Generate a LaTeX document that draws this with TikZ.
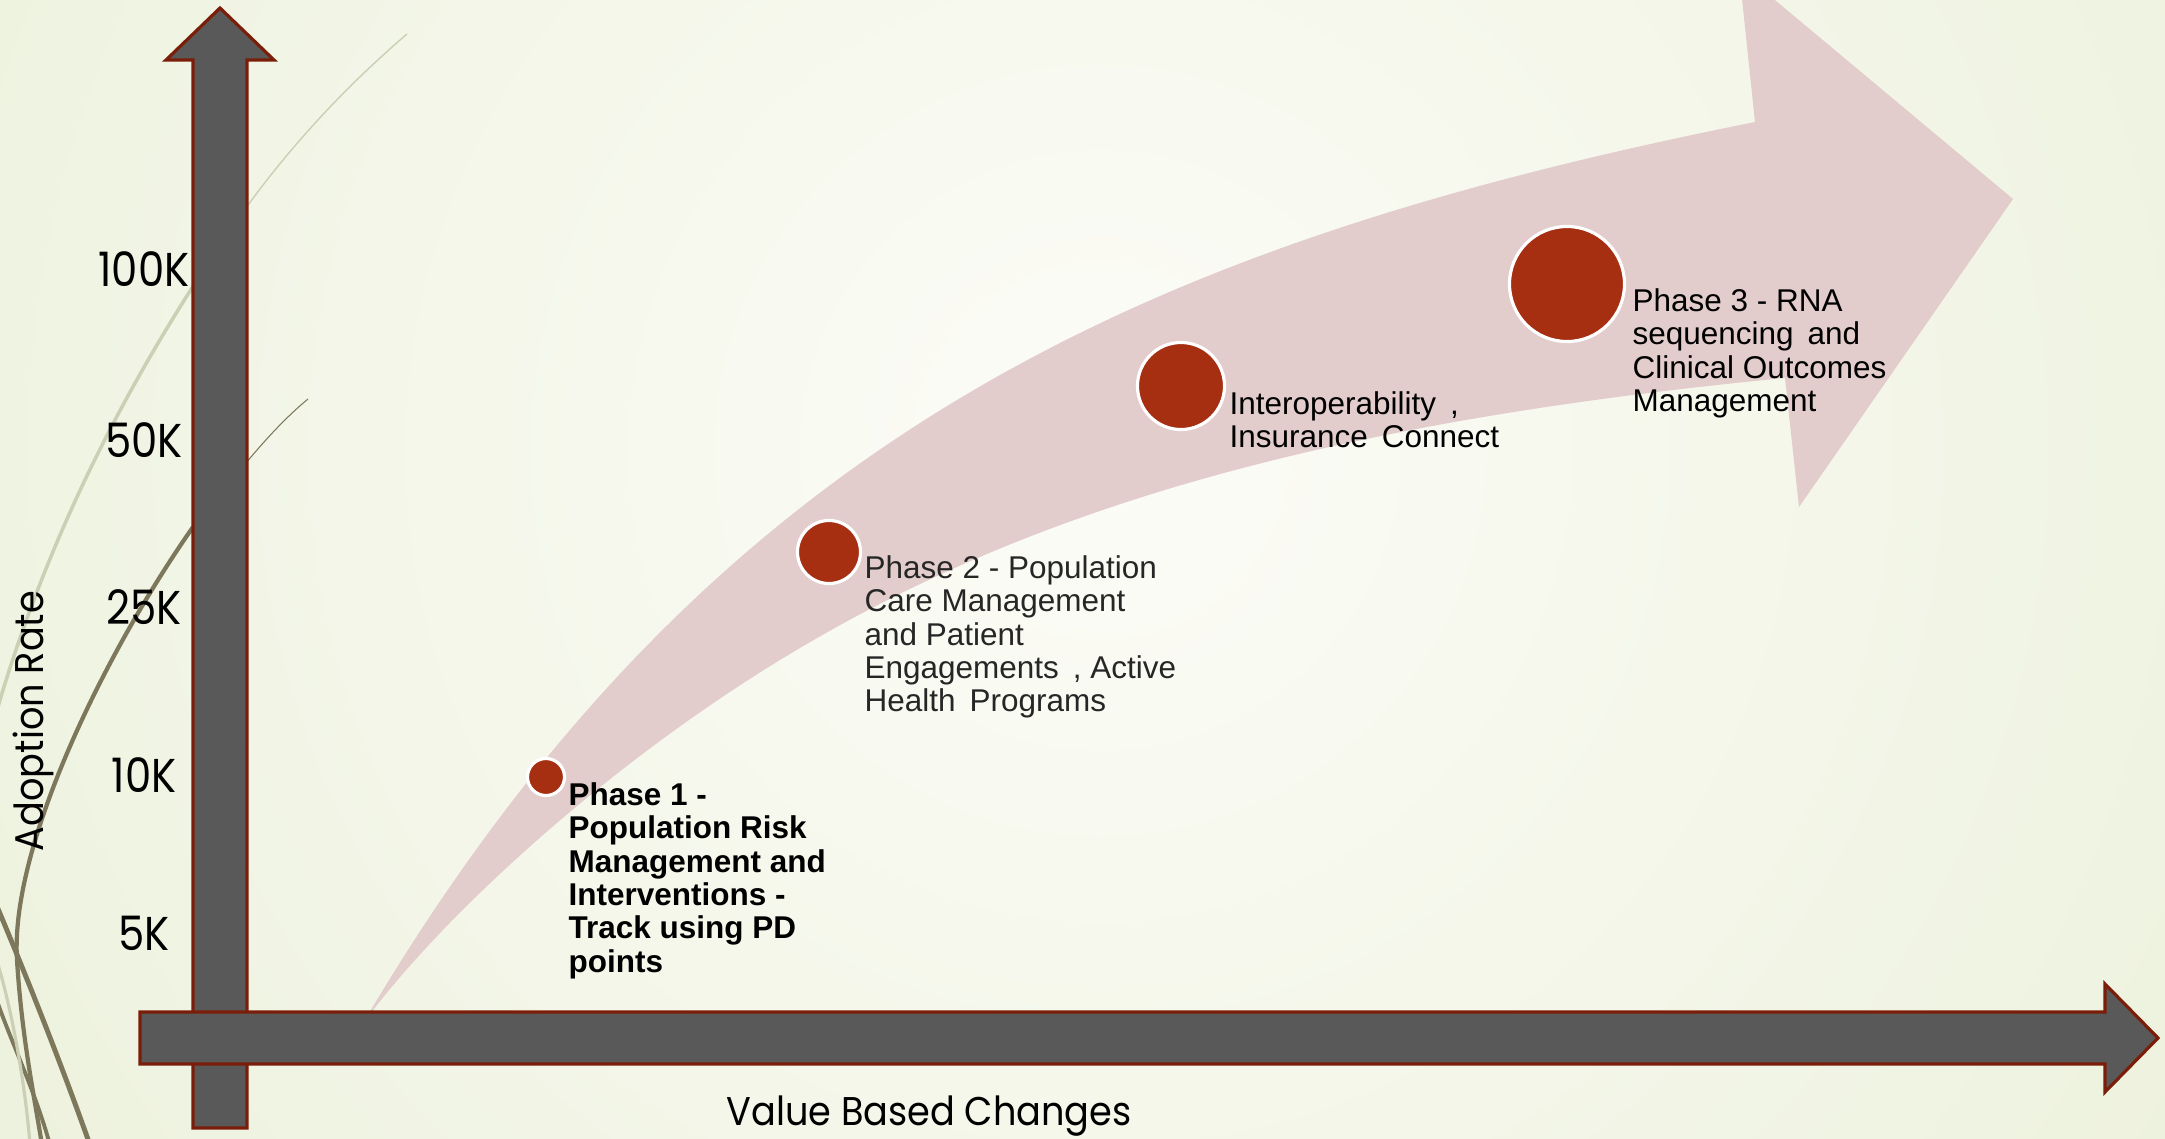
\documentclass[tikz,border=0pt]{standalone}
\usepackage{fontspec}
\setmainfont{Liberation Sans}
\newfontfamily\gothic[FakeStretch=0.88]{Poppins}
\newfontfamily\gothicwide[FakeStretch=0.915]{Poppins}
\usetikzlibrary{calc}
\definecolor{bgedge}{RGB}{224,233,200}
\definecolor{bgmid}{RGB}{252,252,247}
\definecolor{bandpink}{RGB}{226,204,204}
\definecolor{axisgray}{RGB}{89,89,89}
\definecolor{axisred}{RGB}{122,30,10}
\definecolor{dotred}{RGB}{166,46,17}
\definecolor{wispdark}{RGB}{125,120,92}
\definecolor{wisplight}{RGB}{203,207,180}
\newcommand\phasesize{\fontsize{8.95}{9.48}\selectfont}

\begin{document}
\begin{tikzpicture}[x=0.01cm,y=-0.01cm,
    axisbar/.style={fill=axisgray,draw=axisred,line width=0.9pt,line join=miter},
    phasedot/.style={circle,fill=dotred,draw=white,line width=0.9pt,inner sep=0pt},
    phasetext/.style={anchor=north west,inner sep=0pt,align=left,font=\phasesize},
    ticklabel/.style={font=\gothic\fontsize{13.5}{15}\selectfont,inner sep=0pt},
    axistitle/.style={font=\gothicwide\fontsize{11.4}{13}\selectfont,inner sep=0pt,anchor=base}]

\useasboundingbox (0,0) rectangle (2165,1139);
\clip (0,0) rectangle (2165,1139);

% background
\shade[inner color=bgmid,outer color=bgedge] (1100,450) circle[radius=24cm];

% wisps on the left
\draw[wisplight,line width=0.4pt] (407,34) .. controls (330,100) and (270,170) .. (220,245);
\draw[wisplight,line width=1pt] (220,245) .. controls (150,350) and (60,500) .. (0,700) -- (-20,770);
\draw[wispdark,line width=0.3pt] (308,399) .. controls (285,418) and (265,440) .. (240,470);
\draw[wispdark,line width=1.2pt] (193,527) .. controls (100,660) and (10,850) .. (17,960)
  .. controls (22,1040) and (35,1100) .. (42,1145);
\draw[wispdark,line width=1.4pt] (-10,890) .. controls (20,960) and (60,1060) .. (90,1145);
\draw[wispdark,line width=1.1pt] (-5,995) .. controls (10,1040) and (35,1090) .. (50,1145);
\draw[wisplight,line width=0.9pt] (-5,955) .. controls (10,1000) and (25,1080) .. (30,1145);

% the big curved arrow
\fill[bandpink] (362,1025) .. controls (712,430) and (1155,242) .. (1755,122)
  -- (1739,-30) -- (2013,199) -- (1799,507) -- (1785,378)
  .. controls (1350,420) and (1050,500) .. (800,648)
  .. controls (600,766) and (430,930) .. (362,1025) -- cycle;

% axes
\draw[axisbar] (193,1128) -- (193,60) -- (166,60) -- (220,8) -- (274,60) -- (247,60) -- (247,1128) -- cycle;
\draw[axisbar] (140,1012) -- (2105,1012) -- (2105,984) -- (2158,1038) -- (2105,1092) -- (2105,1064) -- (140,1064) -- cycle;

\foreach \lab/\ypos in {100K/269,50K/440,25K/607,10K/775,5K/933}
  \node[ticklabel] (tick\lab) at (144,\ypos) {\lab};

\node[axistitle,rotate=90] (ytitle) at (44,721) {Adoption Rate};
\node[axistitle] (xtitle) at (929,1125) {Value Based Changes};

% phases
\node[phasedot,minimum size=0.37cm] (dot1) at (546,777) {};
\node[phasedot,minimum size=0.63cm] (dot2) at (829,552) {};
\node[phasedot,minimum size=0.87cm] (dot3) at (1181,386) {};
\node[phasedot,minimum size=1.15cm] (dot4) at (1567,284) {};

\node[phasetext,font=\phasesize\bfseries] (txt1) at (568,782)
  {Phase 1 -\\Population Risk\\Management and\\Interventions -\\Track using PD\\points};
\node[phasetext,text=black!85] (txt2) at (864,555)
  {Phase 2 - Population\\Care Management\\and Patient\\Engagements\ \,, Active\\Health\ \,Programs};
\node[phasetext] (txt3) at (1229,391)
  {Interoperability\ \,,\\Insurance\ \,Connect};
\node[phasetext] (txt4) at (1632,288)
  {Phase 3 - RNA\\sequencing\ \,and\\Clinical Outcomes\\Management};
\end{tikzpicture}
\end{document}
